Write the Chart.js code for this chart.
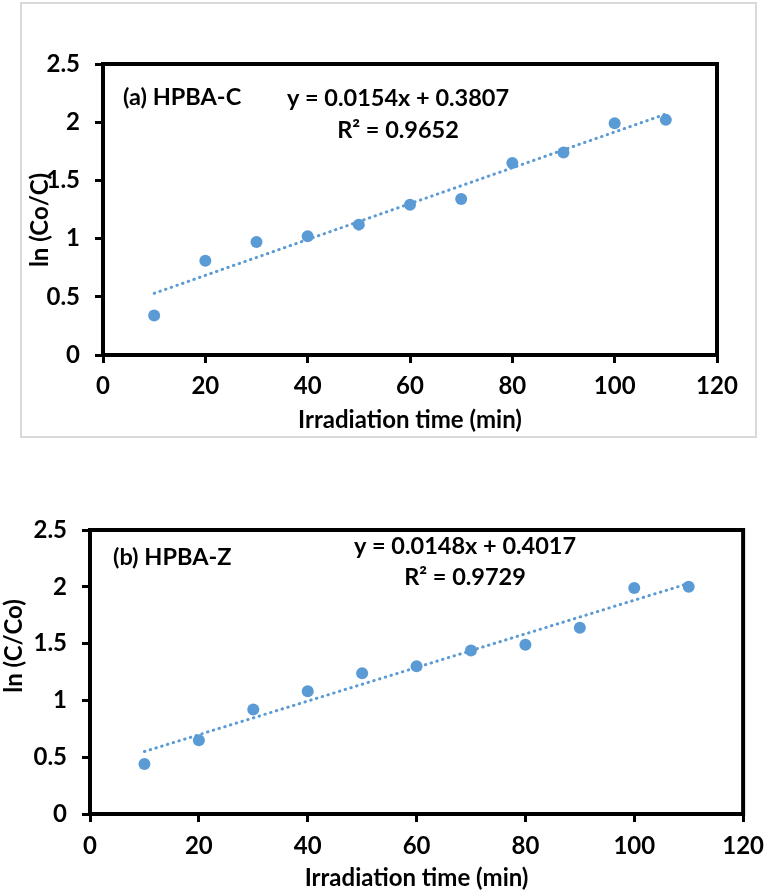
<!DOCTYPE html>
<html>
<head>
<meta charset="utf-8">
<script src="https://cdn.jsdelivr.net/npm/chart.js@4"></script>
<style>
  body { margin: 0; background: #fff; }
  #wrap { position: relative; width: 774px; height: 893px; }
  #box { position: absolute; left: 20px; top: 2px; width: 733px; height: 432px; border: 2px solid #d9d9d9; }
  canvas { position: absolute; left: 0; }
</style>
</head>
<body>
<div id="wrap">
  <div id="box"></div>
  <canvas id="chartA" width="774" height="440" style="top:0"></canvas>
  <canvas id="chartB" width="774" height="453" style="top:440px"></canvas>
</div>
<script>
// irradiation time (min)
let timeMin = [10, 20, 30, 40, 50, 60, 70, 80, 90, 100, 110];
// (a) HPBA-C  ln(Co/C)
let lnA = [0.34, 0.81, 0.97, 1.02, 1.12, 1.29, 1.34, 1.65, 1.74, 1.99, 2.02];
// (b) HPBA-Z  ln(C/Co)
let lnB = [0.44, 0.65, 0.92, 1.08, 1.24, 1.30, 1.44, 1.49, 1.64, 1.99, 2.00];
// linear trendline ends
let trendX = [10, 110];
let trendA = [0.53, 2.07];
let trendB = [0.55, 2.03];

let xTicks = [0, 20, 40, 60, 80, 100, 120];
let yTicks = [0, 0.5, 1, 1.5, 2, 2.5];

const blue = "#5B9BD5";
const fontFam = "Lato, 'Open Sans', sans-serif";

function pts(xs, ys) {
    return xs.map((x, i) => ({ x: x, y: ys[i] }));
}

// black frame round the plot area
const frame = {
    id: "frame",
    afterDraw(chart) {
        const a = chart.chartArea, ctx = chart.ctx;
        ctx.save();
        ctx.strokeStyle = "#000";
        ctx.lineWidth = 4;
        ctx.strokeRect(a.left, a.top, a.right - a.left, a.bottom - a.top);
        ctx.restore();
    }
};

// text boxes on the chart (and the rotated y title)
const notes = {
    id: "notes",
    afterDatasetsDraw(chart, args, opts) {
        const ctx = chart.ctx;
        (opts.items || []).forEach(it => {
            ctx.save();
            ctx.fillStyle = "#000";
            ctx.textBaseline = "middle";
            ctx.font = "bold " + (it.size || 23.5) + "px " + fontFam;
            ctx.textAlign = it.align || "left";
            ctx.translate(it.x, it.y);
            if (it.rot) ctx.rotate(it.rot * Math.PI / 180);
            ctx.fillText(it.text, 0, 0);
            ctx.restore();
        });
    }
};

function makeChart(id, ys, trend, g, items) {
    return new Chart(id, {
        type: "scatter",
        data: {
            datasets: [{
                data: pts(timeMin, ys),
                backgroundColor: blue,
                borderWidth: 0,
                pointRadius: 6,
                order: 1
            }, {
                data: pts(trendX, trend),
                showLine: true,
                borderColor: blue,
                borderWidth: 3,
                borderDash: [0.5, 5.5],
                borderCapStyle: "round",
                pointRadius: 0,
                order: 2
            }]
        },
        options: {
            responsive: false,
            animation: false,
            events: [],
            layout: { padding: { left: 0, right: g.right, top: g.top, bottom: 0 } },
            plugins: {
                legend: { display: false },
                tooltip: { enabled: false },
                notes: { items: items }
            },
            scales: {
                x: {
                    type: "linear",
                    min: 0, max: 120,
                    afterBuildTicks: s => { s.ticks = xTicks.map(v => ({ value: v })); },
                    afterFit: s => { s.height = g.xh; },
                    border: { display: false },
                    grid: { drawOnChartArea: false, color: "#000", lineWidth: 3, tickLength: 8 },
                    ticks: { color: "#000", padding: g.xpad, font: { family: fontFam, size: 24, weight: "bold" } },
                    title: {
                        display: true, text: "Irradiation time (min)", color: "#000",
                        padding: { top: 0, bottom: g.xtp },
                        font: { family: fontFam, size: 24, weight: "bold" }
                    }
                },
                y: {
                    min: 0, max: 2.5,
                    afterBuildTicks: s => { s.ticks = yTicks.map(v => ({ value: v })); },
                    afterFit: s => { s.width = g.yw; },
                    border: { display: false },
                    grid: { drawOnChartArea: false, color: "#000", lineWidth: 3, tickLength: 8 },
                    ticks: {
                        color: "#000", padding: 15,
                        callback: v => String(v),
                        font: { family: fontFam, size: 24, weight: "bold" }
                    }
                }
            }
        },
        plugins: [frame, notes]
    });
}

makeChart("chartA", lnA, trendA,
    { right: 57, top: 64, xh: 85, yw: 103, xpad: 9, xtp: 5 },
    [
        { text: "ln (Co/C)", x: 40, y: 220, rot: -90, align: "center", size: 24 },
        { text: "(a) HPBA-C", x: 123, y: 97 },
        { text: "y = 0.0154x + 0.3807", x: 398, y: 98, align: "center" },
        { text: "R² = 0.9652", x: 398, y: 130, align: "center" }
    ]);

makeChart("chartB", lnB, trendB,
    { right: 21, top: 90, xh: 79, yw: 90, xpad: 10, xtp: 0 },
    [
        { text: "ln (C/Co)", x: 14, y: 206, rot: -90, align: "center", size: 24 },
        { text: "(b) HPBA-Z", x: 113, y: 117 },
        { text: "y = 0.0148x + 0.4017", x: 465, y: 106, align: "center" },
        { text: "R² = 0.9729", x: 465, y: 137, align: "center" }
    ]);
</script>
</body>
</html>
